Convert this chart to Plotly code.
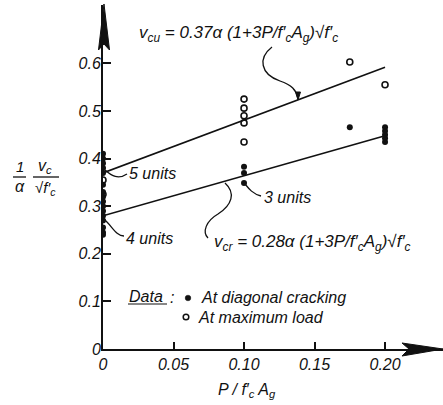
import plotly.graph_objects as go

# ---- data -----------------------------------------------------------------
# axial load ratio P / f'c Ag and normalised shear stress (1/alpha) v_c / sqrt(f'c)
crack_x = [0, 0, 0, 0, 0, 0, 0, 0, 0, 0, 0, 0, 0, 0, 0, 0,
           0.10, 0.10, 0.10, 0.175, 0.20, 0.20, 0.20, 0.20, 0.20]
crack_y = [0.41, 0.40, 0.39, 0.38, 0.37, 0.345, 0.33, 0.32, 0.31, 0.30,
           0.29, 0.28, 0.27, 0.255, 0.245, 0.24,
           0.383, 0.37, 0.349, 0.466, 0.466, 0.458, 0.45, 0.443, 0.435]

maxload_x = [0, 0, 0.10, 0.10, 0.10, 0.10, 0.10, 0.175, 0.20]
maxload_y = [0.355, 0.325, 0.525, 0.506, 0.49, 0.475, 0.435, 0.603, 0.555]

# design equations v = k * alpha * (1 + 3 P/f'c Ag) * sqrt(f'c)
k_cu = 0.37
k_cr = 0.28
line_x = [0.0, 0.20]

x_ticks = [0, 0.05, 0.10, 0.15, 0.20]
x_ticktext = ["0", "0.05", "0.10", "0.15", "0.20"]
y_ticks = [0, 0.1, 0.2, 0.3, 0.4, 0.5, 0.6]
y_ticktext = ["0", "0.1", "0.2", "0.3", "0.4", "0.5", "0.6"]

# ---- geometry --------------------------------------------------------------
W, H = 443, 405
ML, MR, MT, MB = 103, 0, 5, 56
PW, PH = W - ML - MR, H - MT - MB
X_MAX = 0.2411
Y_MAX = 0.7227

FONT = "Liberation Sans"
INK = "#111111"


def px(xp):
    """pixel column -> paper x"""
    return (xp - ML) / PW


def py(yp):
    """pixel row -> paper y"""
    return (H - MB - yp) / PH


def path(points, close=False):
    d = "M " + " L ".join(f"{px(a):.5f},{py(b):.5f}" for a, b in points)
    return d + (" Z" if close else "")


def curve(p0, c1, c2, p1):
    return (f"M {px(p0[0]):.5f},{py(p0[1]):.5f} "
            f"C {px(c1[0]):.5f},{py(c1[1]):.5f} {px(c2[0]):.5f},{py(c2[1]):.5f} "
            f"{px(p1[0]):.5f},{py(p1[1]):.5f}")


fig = go.Figure()

fig.add_trace(go.Scatter(
    x=line_x, y=[k_cu * (1 + 3 * v) for v in line_x], mode="lines",
    line=dict(color=INK, width=1.6), showlegend=False, hoverinfo="skip"))
fig.add_trace(go.Scatter(
    x=line_x, y=[k_cr * (1 + 3 * v) for v in line_x], mode="lines",
    line=dict(color=INK, width=1.6), showlegend=False, hoverinfo="skip"))

fig.add_trace(go.Scatter(
    x=crack_x, y=crack_y, mode="markers", name="At diagonal cracking",
    showlegend=False,
    marker=dict(symbol="circle", size=6, color=INK, line=dict(width=0))))
fig.add_trace(go.Scatter(
    x=maxload_x, y=maxload_y, mode="markers", name="At maximum load",
    showlegend=False,
    marker=dict(symbol="circle-open", size=6, color=INK, line=dict(width=1.6))))

shapes = []
# axis arrowheads
shapes.append(dict(type="path", xref="paper", yref="paper",
                   path=path([(104, 4), (109.5, 50), (104, 44), (98.5, 50)], close=True),
                   fillcolor=INK, line=dict(color=INK, width=1)))
shapes.append(dict(type="path", xref="paper", yref="paper",
                   path=path([(443, 349), (402, 343), (409, 349), (402, 356)], close=True),
                   fillcolor=INK, line=dict(color=INK, width=1)))

# leader curves
lead = dict(type="path", xref="paper", yref="paper", line=dict(color=INK, width=1.3))
shapes.append(dict(lead, path=curve((272, 47), (258, 58), (260, 74), (280, 81))
                   + f" C {px(292):.5f},{py(85):.5f} {px(296):.5f},{py(90):.5f} {px(298):.5f},{py(98):.5f}"))
shapes.append(dict(type="path", xref="paper", yref="paper",
                   path=path([(298, 100), (295.5, 92), (300.5, 92)], close=True),
                   fillcolor=INK, line=dict(color=INK, width=1)))
shapes.append(dict(lead, path=curve((225, 183), (236, 193), (232, 205), (218, 214))
                   + f" C {px(206):.5f},{py(221):.5f} {px(202):.5f},{py(232):.5f} {px(208):.5f},{py(238):.5f}"))
shapes.append(dict(lead, path=curve((105, 170), (112, 176), (118, 180), (127, 174))))
shapes.append(dict(lead, path=curve((104, 219), (112, 226), (116, 236), (124, 236))))
shapes.append(dict(lead, path=curve((245, 184), (249, 189), (253, 194), (261, 196))))

# fraction bars in the y-axis label
shapes.append(dict(type="line", xref="paper", yref="paper",
                   x0=px(13), x1=px(26), y0=py(177), y1=py(177),
                   line=dict(color=INK, width=1.3)))
shapes.append(dict(type="line", xref="paper", yref="paper",
                   x0=px(33), x1=px(59), y0=py(177), y1=py(177),
                   line=dict(color=INK, width=1.3)))
# underline of "Data"
shapes.append(dict(type="line", xref="paper", yref="paper",
                   x0=px(128), x1=px(167), y0=py(304), y1=py(304),
                   line=dict(color=INK, width=1.2)))
# key symbols
r = 2.8
shapes.append(dict(type="circle", xref="paper", yref="paper",
                   x0=px(188 - r), x1=px(188 + r), y0=py(298 + r), y1=py(298 - r),
                   fillcolor=INK, line=dict(color=INK, width=0.5)))
shapes.append(dict(type="circle", xref="paper", yref="paper",
                   x0=px(186 - r), x1=px(186 + r), y0=py(317 + r), y1=py(317 - r),
                   fillcolor="white", line=dict(color=INK, width=1.5)))

fr = "f\u2032<sub>c</sub>"
ann_font = dict(family=FONT, size=16, color=INK, style="italic")


def label(text, xp, yp, xanchor="left", size=16):
    return dict(text=text, x=px(xp), y=py(yp), xref="paper", yref="paper",
                xanchor=xanchor, yanchor="middle", showarrow=False,
                font=dict(ann_font, size=size))


annotations = [
    label(f"v<sub>cu</sub> = 0.37\u03b1 (1+3P/{fr}A<sub>g</sub>)\u221a{fr}", 137, 34, size=17),
    label(f"v<sub>cr</sub> = 0.28\u03b1 (1+3P/{fr}A<sub>g</sub>)\u221a{fr}", 212, 243, size=17),
    label("5 units", 127, 173),
    label("4 units", 124, 238),
    label("3 units", 262, 197),
    label("Data", 127, 296),
    label(":", 168, 297),
    label("At diagonal cracking", 199, 297),
    label("At maximum load", 196, 317),
    label(f"P / {fr} A<sub>g</sub>", 247, 390, xanchor="center"),
    label("1", 20, 167, xanchor="center", size=15),
    label("\u03b1", 20, 186, xanchor="center", size=16),
    label("v<sub>c</sub>", 45, 167, xanchor="center", size=16),
    label(f"\u221a{fr}", 45, 188, xanchor="center", size=15),
]

fig.update_layout(
    width=W, height=H,
    margin=dict(l=ML, r=MR, t=MT, b=MB),
    paper_bgcolor="white", plot_bgcolor="white",
    font=dict(family=FONT, size=16, color=INK),
    shapes=shapes, annotations=annotations,
    showlegend=False,
    xaxis=dict(range=[0, X_MAX], showgrid=False, zeroline=False,
               showline=True, linecolor=INK, linewidth=2,
               ticks="inside", ticklen=7, tickwidth=1.5, tickcolor=INK,
               tickvals=x_ticks, ticktext=x_ticktext,
               tickfont=dict(family=FONT, size=16, color=INK, style="italic")),
    yaxis=dict(range=[0, Y_MAX], showgrid=False, zeroline=False,
               showline=True, linecolor=INK, linewidth=2,
               ticks="inside", ticklen=8, tickwidth=1.5, tickcolor=INK,
               tickvals=y_ticks, ticktext=y_ticktext, ticklabelstandoff=-3,
               tickfont=dict(family=FONT, size=16, color=INK, style="italic")),
)

fig.write_html("out.html")
